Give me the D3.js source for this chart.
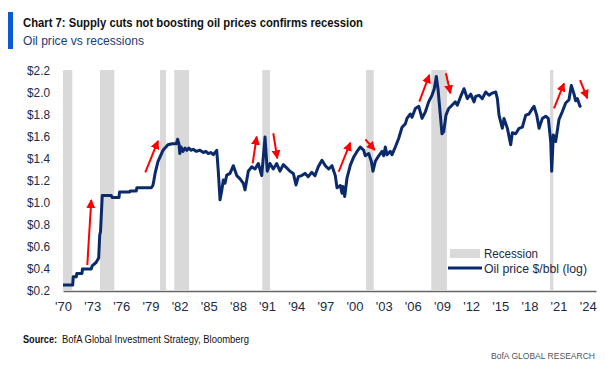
<!DOCTYPE html>
<html>
<head>
<meta charset="utf-8">
<script src="https://cdn.jsdelivr.net/npm/d3@7"></script>
<style>
  body { margin: 0; background: #fff; }
  svg text { font-family: "Liberation Sans", Arial, sans-serif; }
</style>
</head>
<body>
<div id="chart"></div>
<script>
var svgWidth = 608;
var svgHeight = 365;

// oil price, log10 of $/bbl
var obsYear = [1970.00, 1971.00, 1971.05, 1971.37, 1971.42, 1971.95, 1972.00, 1972.90, 1973.00, 1973.40,
  1973.67, 1973.78, 1973.86, 1974.04, 1974.97, 1975.05, 1975.76, 1975.82, 1976.86, 1976.92,
  1977.54, 1977.60, 1979.09, 1979.25, 1979.36, 1979.50, 1979.78, 1980.29, 1980.80, 1981.20,
  1981.66, 1981.80, 1981.95, 1982.02, 1982.15, 1982.35, 1982.55, 1982.75, 1982.95, 1983.20,
  1983.41, 1983.70, 1984.10, 1984.44, 1984.70, 1984.95, 1985.20, 1985.47, 1985.82, 1985.98,
  1986.16, 1986.33, 1986.50, 1986.67, 1986.85, 1987.19, 1987.53, 1987.88, 1988.22, 1988.56,
  1988.73, 1989.07, 1989.42, 1989.76, 1990.10, 1990.45, 1990.79, 1991.02, 1991.30, 1991.64,
  1991.99, 1992.33, 1992.67, 1993.02, 1993.36, 1993.70, 1993.98, 1994.22, 1994.56, 1994.90,
  1995.24, 1995.59, 1995.93, 1996.27, 1996.65, 1997.00, 1997.34, 1997.68, 1998.02, 1998.20,
  1998.54, 1998.71, 1998.81, 1998.99, 1999.23, 1999.57, 1999.92, 2000.26, 2000.60, 2000.95,
  2001.11, 2001.46, 2001.73, 2001.90, 2002.14, 2002.49, 2002.83, 2003.00, 2003.17, 2003.34,
  2003.68, 2003.86, 2004.20, 2004.55, 2004.89, 2005.23, 2005.40, 2005.74, 2005.92, 2006.26,
  2006.61, 2006.95, 2007.29, 2007.63, 2007.97, 2008.21, 2008.42, 2008.59, 2008.83, 2009.00,
  2009.18, 2009.41, 2009.69, 2010.03, 2010.37, 2010.58, 2010.93, 2011.27, 2011.61, 2011.96,
  2012.30, 2012.47, 2012.81, 2013.15, 2013.50, 2013.84, 2014.18, 2014.53, 2014.70, 2014.87,
  2015.21, 2015.38, 2015.73, 2016.07, 2016.24, 2016.59, 2016.93, 2017.27, 2017.62, 2017.96,
  2018.30, 2018.47, 2018.75, 2018.99, 2019.33, 2019.67, 2019.94, 2020.19, 2020.29, 2020.46,
  2020.70, 2021.04, 2021.38, 2021.73, 2022.07, 2022.31, 2022.59, 2022.76, 2022.93, 2023.20,
  2023.30];
var logPrice = [0.245, 0.245, 0.32, 0.32, 0.35, 0.35, 0.39, 0.39, 0.42, 0.45,
  0.49, 0.70, 0.73, 1.06, 1.06, 1.04, 1.04, 1.09, 1.09, 1.10,
  1.10, 1.13, 1.13, 1.15, 1.20, 1.27, 1.37, 1.47, 1.52, 1.53,
  1.53, 1.57, 1.52, 1.44, 1.50, 1.46, 1.49, 1.47, 1.49, 1.47,
  1.48, 1.46, 1.47, 1.45, 1.46, 1.44, 1.45, 1.43, 1.47, 1.28,
  1.02, 1.10, 1.20, 1.17, 1.245, 1.26, 1.33, 1.24, 1.21, 1.17,
  1.11, 1.28, 1.32, 1.30, 1.35, 1.24, 1.59, 1.28, 1.35, 1.30,
  1.35, 1.28, 1.34, 1.31, 1.28, 1.26, 1.155, 1.23, 1.24, 1.26,
  1.23, 1.27, 1.24, 1.32, 1.38, 1.33, 1.30, 1.33, 1.24, 1.13,
  1.15, 1.08, 1.14, 1.05, 1.22, 1.335, 1.41, 1.46, 1.50, 1.47,
  1.42, 1.44, 1.37, 1.28, 1.37, 1.42, 1.46, 1.42, 1.50, 1.43,
  1.46, 1.43, 1.50, 1.58, 1.68, 1.71, 1.76, 1.80, 1.77, 1.85,
  1.87, 1.76, 1.82, 1.91, 1.97, 2.03, 2.14, 2.03, 1.79, 1.62,
  1.64, 1.79, 1.85, 1.88, 1.91, 1.88, 1.96, 2.03, 1.94, 1.98,
  1.91, 1.96, 1.97, 1.94, 2.00, 1.97, 1.99, 2.00, 1.94, 1.79,
  1.67, 1.76, 1.67, 1.52, 1.63, 1.62, 1.67, 1.68, 1.79, 1.80,
  1.85, 1.87, 1.79, 1.67, 1.76, 1.78, 1.76, 1.55, 1.28, 1.61,
  1.55, 1.75, 1.82, 1.90, 1.93, 2.06, 1.98, 1.92, 1.94, 1.87,
  1.88];

// recessions (start / end, decimal years)
var recessionStart = [1970.00, 1973.81, 1979.98, 1981.45, 1990.51, 2001.18, 2007.90, 2020.12];
var recessionEnd = [1970.96, 1975.28, 1980.60, 1982.97, 1991.30, 2001.97, 2009.52, 2020.46];

// red annotation arrows: from (year, value) to (year, value)
var arrowFromYear = [1972.50, 1978.47, 1989.52, 1991.64, 1998.37, 2001.11, 2006.67, 2009.41, 2020.53, 2023.21];
var arrowFromVal = [0.427, 1.27, 1.352, 1.625, 1.275, 1.57, 1.912, 2.17, 1.852, 2.109];
var arrowToYear = [1972.91, 1979.78, 1989.93, 1992.05, 1999.57, 2002.08, 2007.70, 2009.86, 2021.56, 2023.96];
var arrowToVal = [1.018, 1.555, 1.594, 1.397, 1.539, 1.473, 2.155, 1.988, 2.079, 1.943];

var yTicks = [0.2, 0.4, 0.6, 0.8, 1.0, 1.2, 1.4, 1.6, 1.8, 2.0, 2.2];
var xTickYears = [1970, 1973, 1976, 1979, 1982, 1985, 1988, 1991, 1994, 1997, 2000, 2003, 2006, 2009, 2012, 2015, 2018, 2021, 2024];

var title = "Chart 7: Supply cuts not boosting oil prices confirms recession";
var subtitle = "Oil price vs recessions";

var svg = d3.select("#chart")
    .append("svg")
    .attr("width", svgWidth)
    .attr("height", svgHeight);

var x = d3.scaleLinear().domain([1970, 2024.85]).range([63, 596]);
var y = d3.scaleLinear().domain([0.2, 2.2]).range([290, 70]);

// squeeze a text to a given width (the original face is a narrow one)
function fit(sel, w) {
    return sel.attr("textLength", w).attr("lengthAdjust", "spacingAndGlyphs");
}

// title block
svg.append("rect")
    .attr("x", 8).attr("y", 12).attr("width", 5).attr("height", 37)
    .attr("fill", "#0a5bd3");
fit(svg.append("text")
    .attr("x", 23).attr("y", 27)
    .attr("font-size", "13.5px").attr("font-weight", "bold")
    .attr("fill", "#111")
    .text(title), 340);
fit(svg.append("text")
    .attr("x", 23).attr("y", 45)
    .attr("font-size", "13.5px")
    .attr("fill", "#1d3b7a")
    .text(subtitle), 121);

// recession bars
svg.append("g").selectAll("rect")
    .data(recessionStart)
    .enter()
    .append("rect")
    .attr("x", (d, i) => x(d))
    .attr("width", (d, i) => Math.max(3, x(recessionEnd[i]) - x(d)))
    .attr("y", y(2.2))
    .attr("height", y(0.2) - y(2.2))
    .attr("fill", "#d9d9d9");

// axes
var xAxis = d3.axisBottom(x)
    .tickValues(xTickYears)
    .tickFormat(d => "'" + String(d).slice(2))
    .tickSize(0)
    .tickPadding(11);
var gx = svg.append("g")
    .attr("transform", `translate(0, ${y(0.2) + 1})`)
    .call(xAxis);
gx.select(".domain").attr("stroke", "#666").attr("stroke-width", 1.5);
gx.selectAll("text").attr("font-size", "13px").attr("fill", "#222a45")
    .attr("font-family", "'Liberation Sans', Arial, sans-serif");

var yAxis = d3.axisLeft(y)
    .tickValues(yTicks)
    .tickFormat(d => "$" + d.toFixed(1))
    .tickSize(0)
    .tickPadding(13);
var gy = svg.append("g")
    .attr("transform", `translate(63, 0)`)
    .call(yAxis);
gy.select(".domain").remove();
gy.selectAll("text").attr("font-size", "13px").attr("fill", "#222a45")
    .attr("font-family", "'Liberation Sans', Arial, sans-serif")
    .attr("textLength", 23).attr("lengthAdjust", "spacingAndGlyphs");

// oil price line
var pts = obsYear.map((d, i) => [d, logPrice[i]]);
var line = d3.line().x(d => x(d[0])).y(d => y(d[1]));
svg.append("path")
    .datum(pts)
    .attr("d", line)
    .attr("fill", "none")
    .attr("stroke", "#0b2a6b")
    .attr("stroke-width", 3)
    .attr("stroke-linejoin", "round");

// arrows
svg.append("defs").append("marker")
    .attr("id", "head")
    .attr("viewBox", "0 0 10 10")
    .attr("refX", 9).attr("refY", 5)
    .attr("markerUnits", "userSpaceOnUse")
    .attr("markerWidth", 9).attr("markerHeight", 9)
    .attr("orient", "auto")
    .append("path")
    .attr("d", "M0,0L10,5L0,10z")
    .attr("fill", "#ff0000");

svg.append("g").selectAll("line")
    .data(arrowFromYear)
    .enter()
    .append("line")
    .attr("x1", (d, i) => x(d))
    .attr("y1", (d, i) => y(arrowFromVal[i]))
    .attr("x2", (d, i) => x(arrowToYear[i]))
    .attr("y2", (d, i) => y(arrowToVal[i]))
    .attr("stroke", "#ff0000")
    .attr("stroke-width", 2)
    .attr("marker-end", "url(#head)");

// legend
var legend = svg.append("g");
legend.append("rect")
    .attr("x", 450).attr("y", 249).attr("width", 30).attr("height", 9)
    .attr("fill", "#d9d9d9");
fit(legend.append("text")
    .attr("x", 484).attr("y", 253).attr("dy", "0.35em")
    .attr("font-size", "13.5px").attr("fill", "#222a45")
    .text("Recession"), 54);
legend.append("line")
    .attr("x1", 448).attr("x2", 482).attr("y1", 268).attr("y2", 268)
    .attr("stroke", "#0b2a6b").attr("stroke-width", 3);
fit(legend.append("text")
    .attr("x", 484).attr("y", 268).attr("dy", "0.35em")
    .attr("font-size", "13.5px").attr("fill", "#222a45")
    .text("Oil price $/bbl (log)"), 103);

// footer
fit(svg.append("text")
    .attr("x", 23).attr("y", 343)
    .attr("font-size", "10.5px").attr("font-weight", "bold").attr("fill", "#111")
    .text("Source:"), 34);
fit(svg.append("text")
    .attr("x", 62).attr("y", 343)
    .attr("font-size", "10.5px").attr("fill", "#111")
    .text("BofA Global Investment Strategy, Bloomberg"), 187);

fit(svg.append("text")
    .attr("x", 491).attr("y", 359)
    .attr("font-size", "9px").attr("fill", "#555")
    .text("BofA GLOBAL RESEARCH"), 104);
</script>
</body>
</html>
